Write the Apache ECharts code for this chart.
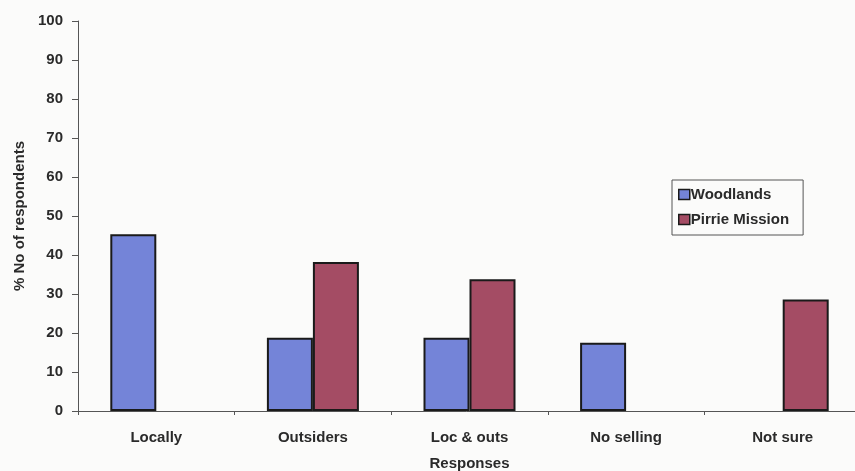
<!DOCTYPE html>
<html>
<head>
<meta charset="utf-8">
<script src="https://cdn.jsdelivr.net/npm/echarts@6/dist/echarts.min.js"></script>
<style>
  html, body { margin: 0; padding: 0; background: #fbfbfa; overflow: hidden; }
  #chart { width: 855px; height: 471px; }
</style>
</head>
<body>
<div id="chart"></div>
<script>
// Responses and share of respondents (%) per village
const categories = ['Locally', 'Outsiders', 'Loc & outs', 'No selling', 'Not sure'];
const woodlands = [45.3, 18.8, 18.8, 17.5, null];
const pirrieMission = [null, 38.2, 33.8, null, 28.6];
const yTicks = { min: 0, max: 100, interval: 10 };

const FONT = '"Liberation Sans", Arial, sans-serif';
const TEXT = '#2a2a2a';

const chart = echarts.init(document.getElementById('chart'));
chart.setOption({
  backgroundColor: '#fbfbfa',
  animation: false,
  grid: { left: 78, top: 21, width: 783, height: 390, containLabel: false, outerBoundsMode: 'none' },
  legend: {
    data: ['Woodlands', 'Pirrie Mission'],
    orient: 'vertical',
    left: 672,
    top: 180,
    padding: [7, 14, 8, 6],
    itemGap: 10,
    itemWidth: 11,
    itemHeight: 10,
    borderColor: '#555',
    borderWidth: 1,
    backgroundColor: '#fbfbfa',
    icon: 'rect',
    itemStyle: { borderColor: '#1a1a1a', borderWidth: 1.5 },
    textStyle: { fontFamily: FONT, fontWeight: 'bold', fontSize: 15, color: TEXT, padding: [0, 0, 0, -4] }
  },
  xAxis: {
    type: 'category',
    data: categories,
    name: 'Responses',
    nameLocation: 'middle',
    nameGap: 45,
    nameTextStyle: { fontFamily: FONT, fontWeight: 'bold', fontSize: 15, color: TEXT },
    axisLine: { lineStyle: { color: '#555', width: 1 } },
    axisTick: { show: true, length: 4, alignWithLabel: false, lineStyle: { color: '#555' } },
    axisLabel: { fontFamily: FONT, fontWeight: 'bold', fontSize: 15, color: TEXT, margin: 19 }
  },
  yAxis: {
    type: 'value',
    min: yTicks.min,
    max: yTicks.max,
    interval: yTicks.interval,
    name: '% No of respondents',
    nameLocation: 'middle',
    nameGap: 50,
    nameRotate: 90,
    nameTextStyle: { fontFamily: FONT, fontWeight: 'bold', fontSize: 15, color: TEXT },
    splitLine: { show: false },
    axisLine: { show: true, lineStyle: { color: '#555', width: 1 } },
    axisTick: { show: true, length: 6, lineStyle: { color: '#555' } },
    axisLabel: { fontFamily: FONT, fontWeight: 'bold', fontSize: 15, color: TEXT, margin: 15 }
  },
  series: [
    {
      name: 'Woodlands',
      type: 'bar',
      data: woodlands,
      barWidth: 46,
      barGap: '0%',
      itemStyle: { color: '#7484d8', borderColor: '#1a1a1a', borderWidth: 2 }
    },
    {
      name: 'Pirrie Mission',
      type: 'bar',
      data: pirrieMission,
      barWidth: 46,
      barGap: '0%',
      itemStyle: { color: '#a44c64', borderColor: '#1a1a1a', borderWidth: 2 }
    }
  ]
});
</script>
</body>
</html>
